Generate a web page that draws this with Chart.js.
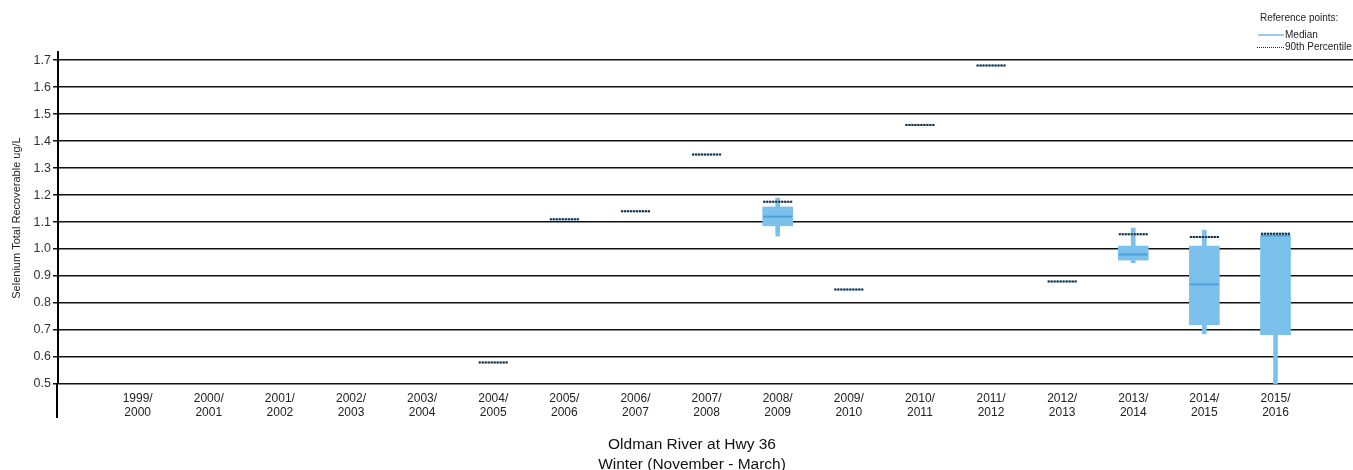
<!DOCTYPE html>
<html>
<head>
<meta charset="utf-8">
<script src="https://cdn.jsdelivr.net/npm/chart.js@4/dist/chart.umd.min.js"></script>
<style>
  html, body { margin: 0; padding: 0; background: #fff; }
  #chart { display: block; }
</style>
</head>
<body>
<canvas id="chart" width="1353" height="470"></canvas>
<script>
// Winter seasons on the x axis
const seasons = [
    '1999/2000', '2000/2001', '2001/2002', '2002/2003', '2003/2004', '2004/2005',
    '2005/2006', '2006/2007', '2007/2008', '2008/2009', '2009/2010', '2010/2011',
    '2011/2012', '2012/2013', '2013/2014', '2014/2015', '2015/2016'
];

// 90th percentile reference per season (ug/L)
const p90 = [null, null, null, null, null, 0.58, 1.11, 1.14, 1.35, 1.175, 0.85, 1.46, 1.68, 0.88, 1.055, 1.045, 1.057];

// box plot statistics (ug/L)
const whiskerLow  = [null, null, null, null, null, null, null, null, null, 1.048, null, null, null, null, 0.949, 0.686, 0.50];
const quartile1   = [null, null, null, null, null, null, null, null, null, 1.086, null, null, null, null, 0.959, 0.720, 0.683];
const medians     = [null, null, null, null, null, null, null, null, null, 1.120, null, null, null, null, 0.980, 0.869, 1.050];
const quartile3   = [null, null, null, null, null, null, null, null, null, 1.156, null, null, null, null, 1.011, 1.011, 1.052];
const whiskerHigh = [null, null, null, null, null, null, null, null, null, 1.189, null, null, null, null, 1.078, 1.070, 1.052];

const yTicks = [0.5, 0.6, 0.7, 0.8, 0.9, 1.0, 1.1, 1.2, 1.3, 1.4, 1.5, 1.6, 1.7];

const boxBlue = '#7bc1ec';
const medianBlue = '#4d9fdc';
const dotColor = '#1e2632';
const font = "'Liberation Sans', Arial, sans-serif";

function points(values) {
    return values.map((v, i) => v == null ? null : { x: i, y: v }).filter(Boolean);
}

function ranges(lo, hi) {
    return lo.map((v, i) => v == null ? null : { x: i, y: [v, hi[i]] }).filter(Boolean);
}

// dotted reference lines: dash the point strokes of flagged datasets
const dashPlugin = {
    id: 'dashPoints',
    beforeDatasetDraw(chart, args) {
        if (chart.data.datasets[args.index].dotted) {
            chart.ctx.save();
            chart.ctx.setLineDash([2, 1]);
        }
    },
    afterDatasetDraw(chart, args) {
        if (chart.data.datasets[args.index].dotted) {
            chart.ctx.restore();
        }
    }
};

// axis extension, reference legend and the bottom caption
const decorPlugin = {
    id: 'decor',
    afterDraw(chart) {
        const ctx = chart.ctx;
        const area = chart.chartArea;
        ctx.save();

        ctx.strokeStyle = '#000';
        ctx.lineWidth = 2;
        ctx.beginPath();
        ctx.moveTo(area.left - 1, area.bottom);
        ctx.lineTo(area.left - 1, area.bottom + 34);
        ctx.stroke();

        ctx.fillStyle = '#222';
        ctx.font = '10px ' + font;
        ctx.textBaseline = 'middle';
        ctx.textAlign = 'left';
        ctx.fillText('Reference points:', 1260, 18);
        ctx.fillText('Median', 1285, 35);
        ctx.fillText('90th Percentile', 1285, 47);

        ctx.strokeStyle = '#5aaae4';
        ctx.lineWidth = 1.2;
        ctx.beginPath();
        ctx.moveTo(1258, 35);
        ctx.lineTo(1284, 35);
        ctx.stroke();

        ctx.strokeStyle = dotColor;
        ctx.lineWidth = 1;
        ctx.setLineDash([1, 1]);
        ctx.beginPath();
        ctx.moveTo(1257, 47.5);
        ctx.lineTo(1284, 47.5);
        ctx.stroke();
        ctx.setLineDash([]);

        ctx.fillStyle = '#111';
        ctx.font = '15.5px ' + font;
        ctx.textAlign = 'center';
        ctx.fillText('Oldman River at Hwy 36', 692, 445);
        ctx.fillText('Winter (November - March)', 692, 465);
        ctx.restore();
    }
};

new Chart(document.getElementById('chart'), {
    type: 'bar',
    data: {
        datasets: [
            {
                type: 'scatter',
                dotted: true,
                data: points(p90),
                pointStyle: 'line',
                radius: 14.5,
                borderWidth: 2,
                borderColor: dotColor
            },
            {
                type: 'scatter',
                data: points(p90),
                pointStyle: 'line',
                radius: 14.5,
                borderWidth: 2,
                borderColor: '#8cc7ee'
            },
            {
                type: 'scatter',
                data: points(medians),
                pointStyle: 'line',
                radius: 14.5,
                borderWidth: 2,
                borderColor: medianBlue
            },
            {
                data: ranges(quartile1, quartile3),
                backgroundColor: boxBlue,
                barThickness: 30,
                grouped: false
            },
            {
                data: ranges(whiskerLow, whiskerHigh),
                backgroundColor: boxBlue,
                barThickness: 4,
                grouped: false
            }
        ]
    },
    options: {
        responsive: false,
        animation: false,
        layout: { autoPadding: false, padding: { top: 52, right: 0, bottom: 0, left: 0 } },
        plugins: {
            legend: { display: false },
            tooltip: { enabled: false }
        },
        scales: {
            x: {
                type: 'linear',
                offset: false,
                min: -1.12,
                max: 17.09,
                afterFit: scale => {
                    scale.height = 86;
                    scale.paddingLeft = 0;
                    scale.paddingRight = 0;
                },
                afterBuildTicks: scale => {
                    scale.ticks = seasons.map((s, i) => ({ value: i }));
                },
                grid: { display: false, drawTicks: false, offset: false },
                border: { display: false },
                ticks: {
                    autoSkip: false,
                    maxRotation: 0,
                    padding: 8,
                    color: '#222',
                    font: { family: font, size: 12, lineHeight: 1.17 },
                    callback: value => {
                        const parts = seasons[value].split('/');
                        return [parts[0] + '/', parts[1]];
                    }
                }
            },
            y: {
                min: 0.5,
                max: 1.73,
                afterFit: scale => { scale.width = 58; },
                afterBuildTicks: scale => {
                    scale.ticks = yTicks.map(v => ({ value: v }));
                },
                grid: { color: '#111', lineWidth: 1.5, tickLength: 5 },
                border: { display: true, color: '#000', width: 2 },
                ticks: {
                    padding: 2,
                    color: '#333',
                    font: { family: font, size: 12.5 },
                    callback: value => value.toFixed(1)
                },
                title: {
                    display: true,
                    text: 'Selenium Total Recoverable ug/L',
                    color: '#222',
                    padding: { top: 10, bottom: 0 },
                    font: { family: font, size: 11 }
                }
            }
        }
    },
    plugins: [dashPlugin, decorPlugin]
});
</script>
</body>
</html>
